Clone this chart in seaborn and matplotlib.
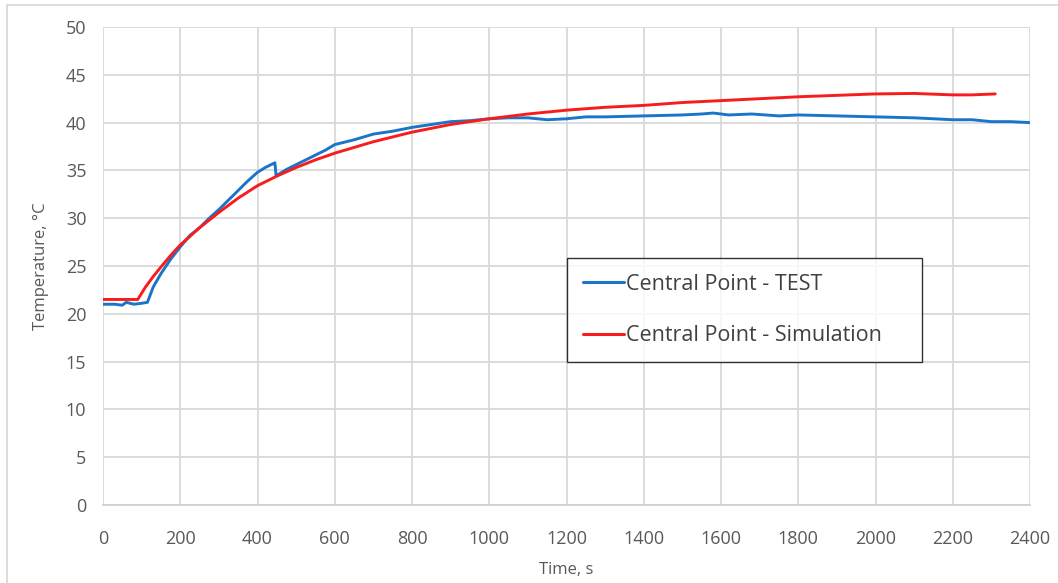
import matplotlib
matplotlib.use("Agg")
import matplotlib.pyplot as plt
import seaborn as sns
import pandas as pd
from matplotlib.lines import Line2D

test_time = [0, 30, 50, 60, 80, 100, 115, 130, 150, 175, 200, 225, 250, 275, 300, 325, 350, 375, 400,
             420, 435, 445, 448, 455, 475, 500, 525, 550, 575, 600, 650, 700, 750, 800, 850, 900, 950,
             1000, 1050, 1100, 1150, 1200, 1250, 1300, 1400, 1500, 1550, 1580, 1620, 1680, 1750, 1800,
             1900, 2000, 2100, 2200, 2250, 2300, 2350, 2400]
test_temp = [21.0, 21.0, 20.9, 21.2, 21.0, 21.1, 21.2, 22.8, 24.2, 25.7, 27.0, 28.2, 29.0, 30.0, 30.9, 31.9, 32.9, 33.9, 34.8,
             35.3, 35.6, 35.8, 34.5, 34.6, 35.1, 35.6, 36.1, 36.6, 37.1, 37.7, 38.2, 38.8, 39.1, 39.5, 39.8, 40.1, 40.2,
             40.4, 40.5, 40.5, 40.3, 40.4, 40.6, 40.6, 40.7, 40.8, 40.9, 41.0, 40.8, 40.9, 40.7, 40.8,
             40.7, 40.6, 40.5, 40.3, 40.3, 40.1, 40.1, 40.0]

sim_time = [0, 50, 90, 110, 130, 150, 175, 200, 250, 300, 350, 400, 450, 500, 550, 600, 700, 800, 900,
            1000, 1100, 1200, 1300, 1400, 1500, 1600, 1700, 1800, 1900, 2000, 2100, 2200, 2250, 2310]
sim_temp = [21.5, 21.5, 21.5, 22.8, 23.9, 24.9, 26.1, 27.2, 29.0, 30.6, 32.1, 33.4, 34.4, 35.3, 36.1, 36.8, 38.0, 39.0, 39.8,
            40.4, 40.9, 41.3, 41.6, 41.8, 42.1, 42.3, 42.5, 42.7, 42.85, 43.0, 43.05, 42.9, 42.9, 43.0]

labels = ["Central Point - TEST", "Central Point - Simulation"]
colors = ["#1a75c9", "#f71d1d"]

df = pd.concat([
    pd.DataFrame({"Time": test_time, "Temp": test_temp, "Series": labels[0]}),
    pd.DataFrame({"Time": sim_time, "Temp": sim_temp, "Series": labels[1]}),
])

sns.set_style("white")
plt.rcParams["font.family"] = ["Open Sans", "DejaVu Sans"]

fig = plt.figure(figsize=(10.58, 5.83), dpi=100)
ax = fig.add_axes([103/1058, 1-505/583, 927/1058, 478/583])

sns.lineplot(data=df, x="Time", y="Temp", hue="Series", palette=colors, ax=ax,
             linewidth=2.1, legend=False, sort=False)

ax.set_xlim(0, 2400)
ax.set_ylim(0, 50)
ax.set_xticks(range(0, 2401, 200))
ax.set_yticks(range(0, 51, 5))
ax.grid(True, color="#d9d9d9", linewidth=1.3)
ax.set_axisbelow(True)
for s in ["top", "right", "left"]:
    ax.spines[s].set_visible(False)
ax.spines["bottom"].set_color("#d0d0d0")
ax.spines["bottom"].set_linewidth(1.3)
ax.tick_params(axis="both", length=0, labelsize=13, labelcolor="#595959")
ax.tick_params(axis="x", pad=18)
ax.tick_params(axis="y", pad=12)
ax.set_xlabel("Time, s", fontsize=12, color="#595959", labelpad=10)
ax.set_ylabel("Temperature, °C", fontsize=12, color="#595959", labelpad=12)

handles = [Line2D([0], [0], color=c, lw=2.2) for c in colors]
leg = ax.legend(handles, labels, loc="center", bbox_to_anchor=(0.5, 0.293, 0.383, 0.23),
                bbox_transform=ax.transAxes, mode="expand", fontsize=15.5, frameon=True,
                fancybox=False, edgecolor="black", handlelength=1.9, handletextpad=0.1,
                labelspacing=1.4, borderpad=0.75, borderaxespad=0.0, labelcolor="#404040")
leg.get_frame().set_linewidth(1.0)

fig.add_artist(Line2D([7/1058, 1], [1-5/583, 1-5/583], color="#d9d9d9", lw=1.3, transform=fig.transFigure))
fig.add_artist(Line2D([7/1058, 7/1058], [0, 1-5/583], color="#d9d9d9", lw=1.3, transform=fig.transFigure))

fig.savefig("out.png", dpi=100)
